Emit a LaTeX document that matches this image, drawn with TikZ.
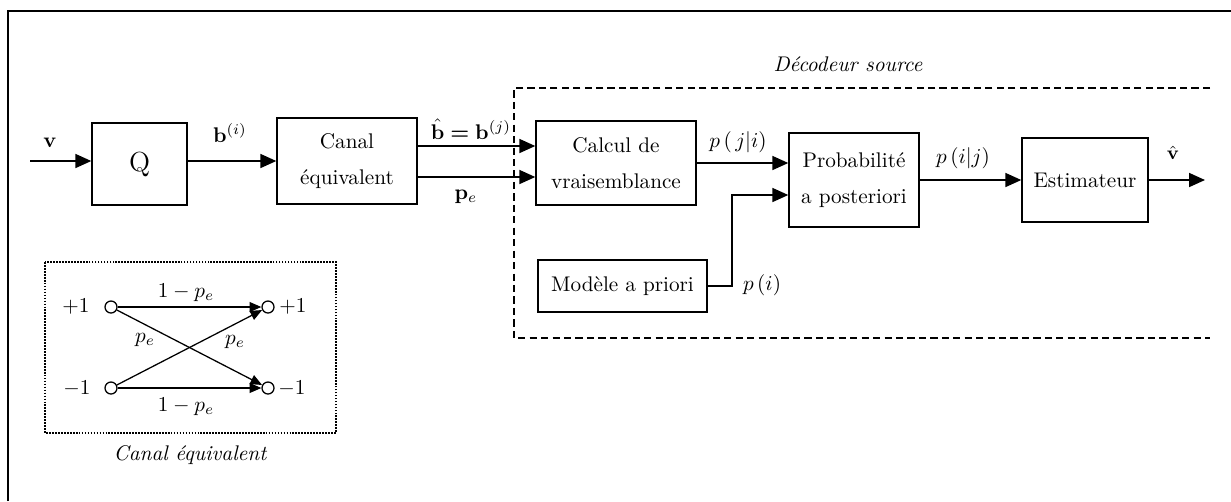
\documentclass[tikz,border=0pt]{standalone}
\usepackage{bm}
\usetikzlibrary{arrows.meta}
\begin{document}
\begin{tikzpicture}[
  x=0.4717pt, y=-0.4717pt,
  every node/.style={font=\fontsize{10}{17}\selectfont},
  block/.style 2 args={draw, line width=0.65pt, inner sep=0pt, align=center,
    minimum width=#1*0.4717pt, minimum height=#2*0.4717pt},
  flow/.style={line width=0.7pt, -{Triangle[length=7.5pt,width=6.6pt]}},
  thin flow/.style={line width=0.6pt, -{Triangle[length=5.5pt,width=4.6pt]}},
  state/.style={circle, draw, line width=0.6pt, inner sep=0pt, minimum size=12*0.4717pt},
  lbl/.style={inner sep=0pt},
  caption/.style={font=\fontsize{10}{12}\selectfont\itshape, inner sep=1pt},
]
% page size and outer frame
\useasboundingbox (0,0) rectangle (1231,501);
\coordinate (fbl) at (8,501);
\coordinate (ftl) at (8,11);
\coordinate (ftr) at (1231,11);
\draw[line width=1pt] (fbl) -- (ftl) -- (ftr);

% main chain of blocks
\node[block={95}{82}]  (Q)      at (139.5,164) {\fontsize{13}{15}\selectfont Q};
\node[block={140}{86}] (canal)  at (347,161)   {Canal\\équivalent};
\node[block={160}{84}] (calcul) at (616,163)   {Calcul de\\vraisemblance};
\node[block={130}{94}] (proba)  at (854,180)   {Probabilité\\a posteriori};
\node[block={169}{52}] (modele) at (622.5,286) {Modèle a priori};
\node[block={126}{84}] (estim)  at (1085,180)  {Estimateur};

% helper points of the connectors
\coordinate (vin)  at (30,161);
\coordinate (hb)   at (0,146);
\coordinate (hp)   at (0,177);
\coordinate (bend) at (732,195);
\coordinate (vout) at (1205,180);

\draw[flow] (vin) -- (vin -| Q.west);
\draw[flow] (vin -| Q.east) -- (vin -| canal.west);
\draw[flow] (hb -| canal.east) -- (hb -| calcul.west);
\draw[flow] (hp -| canal.east) -- (hp -| calcul.west);
\draw[flow] (calcul.east) -- (calcul.east -| proba.west);
\draw[flow] (modele.east) -| (bend) -- (bend -| proba.west);
\draw[flow] (proba.east) -- (proba.east -| estim.west);
\draw[flow] (estim.east) -- (vout);

% signal labels
\node[lbl] (lv)   at (50,143)  {$\mathbf{v}$};
\node[lbl] (lbi)  at (230,133) {$\mathbf{b}^{(i)}$};
\node[lbl] (lbj)  at (471,129) {$\hat{\mathbf{b}}\bm{=}\mathbf{b}^{(j)}$};
\node[lbl] (lpe)  at (466,197) {$\mathbf{p}_e$};
\node[lbl] (lpji) at (738,142) {$p\,(\,j|i)$};
\node[lbl] (lpi)  at (762,285) {$p\,(i)$};
\node[lbl] (lpij) at (963,158) {$p\,(i|j)$};
\node[lbl] (lvh)  at (1173,153) {\small$\hat{\mathbf{v}}$};

% source decoder frame (open on the right)
\coordinate (dtr) at (1210,88);
\coordinate (dtl) at (514,88);
\coordinate (dbl) at (514,338);
\coordinate (dbr) at (1210,338);
\draw[line width=1pt, dash pattern=on 3.4pt off 2pt] (dtr) -- (dtl) -- (dbl) -- (dbr);
\node[caption] (ldec) at (848,64) {Décodeur source};

% binary symmetric channel inset
\coordinate (itl) at (45,262);
\coordinate (ibr) at (336,433);
\draw[line width=0.8pt, dash pattern=on 0.8pt off 0.6pt] (itl) rectangle (ibr);
\node[caption] (lcanal) at (190,455) {Canal équivalent};

\node[state] (a1) at (111,307) {};
\node[state] (a2) at (111,388) {};
\node[state] (b1) at (268,307) {};
\node[state] (b2) at (268,388) {};
\node[lbl] (ta1) at (76,307)  {$+1$};
\node[lbl] (ta2) at (77,389)  {$-1$};
\node[lbl] (tb1) at (293,307) {$+1$};
\node[lbl] (tb2) at (292,389) {$-1$};

\draw[thin flow] (a1) -- (b1);
\draw[thin flow] (a2) -- (b2);
\draw[thin flow] (a1) -- (b2);
\draw[thin flow] (a2) -- (b1);

\node[lbl] (l11) at (186,293) {$1-p_e$};
\node[lbl] (l22) at (186,407) {$1-p_e$};
\node[lbl] (l12) at (145,340) {$p_e$};
\node[lbl] (l21) at (235,342) {$p_e$};
\end{tikzpicture}
\end{document}
